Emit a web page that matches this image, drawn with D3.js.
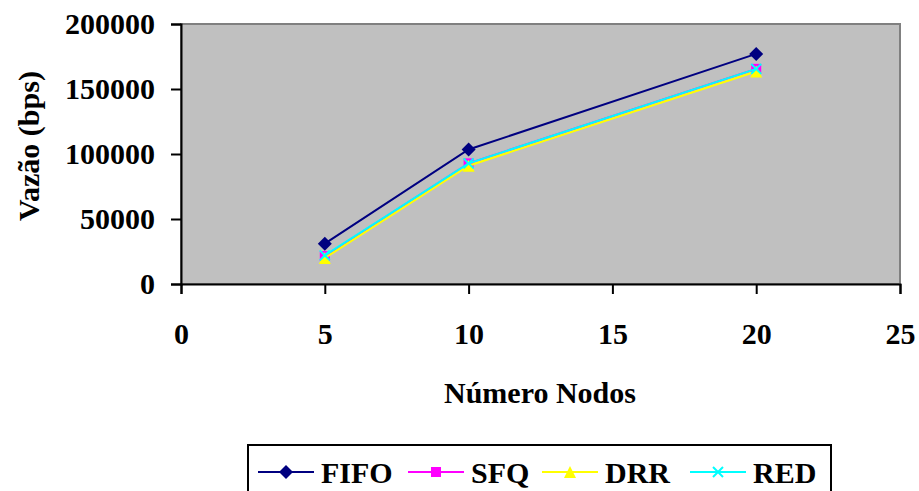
<!DOCTYPE html>
<html><head><meta charset="utf-8">
<script src="https://cdn.jsdelivr.net/npm/d3@7"></script>
<style>html,body{margin:0;padding:0;background:#fff;}svg{display:block;}</style>
</head><body>
<svg id="c" width="919" height="491"></svg>
<script>
const nodes = [5, 10, 20];
const fifo = [31000, 103500, 177000];
const sfq  = [21500, 92800, 165500];
const drr  = [20000, 91000, 163500];
const red  = [22000, 92800, 165500];
const seriesNames = ["FIFO", "SFQ", "DRR", "RED"];
const seriesColors = ["#000080", "#FF00FF", "#FFFF00", "#00FFFF"];
const seriesMarkers = ["diamond", "square", "triangle", "cross"];
const xTicks = [0, 5, 10, 15, 20, 25];
const yTicks = [0, 50000, 100000, 150000, 200000];
const xTitle = "Número Nodos";
const yTitle = "Vazão (bps)";

const seriesValues = [fifo, sfq, drr, red];
const svg = d3.select("#c");
const font = "'Liberation Serif','Times New Roman',serif";
const FS = 30;
const L = 181, R = 900, T = 24, B = 284;
const x = d3.scaleLinear().domain([0, 25]).range([L, R]);
const y = d3.scaleLinear().domain([0, 200000]).range([B, T]);

svg.append("rect").attr("x", L).attr("y", T).attr("width", R - L).attr("height", B - T)
  .attr("fill", "#C0C0C0").attr("stroke", "#808080").attr("stroke-width", 2);

const xa = svg.append("g").attr("transform", `translate(0,${B})`)
  .call(d3.axisBottom(x).tickValues(xTicks).tickSize(10).tickPadding(30).tickFormat(d3.format("d")));
const ya = svg.append("g").attr("transform", `translate(${L},0)`)
  .call(d3.axisLeft(y).tickValues(yTicks).tickSize(10).tickPadding(16).tickFormat(d3.format("d")));
[xa, ya].forEach(a => {
  a.select(".domain").attr("stroke", "#000").attr("stroke-width", 2);
  a.selectAll(".tick line").attr("stroke", "#000").attr("stroke-width", 2);
  a.selectAll("text").attr("font-family", font).attr("font-weight", "bold")
    .attr("font-size", FS).attr("fill", "#000");
});
ya.selectAll(".tick text").attr("dy", "0.33em");
xa.selectAll(".tick text").attr("dy", "0.68em");

svg.append("text").attr("x", 540).attr("y", 403).attr("text-anchor", "middle")
  .attr("font-family", font).attr("font-weight", "bold").attr("font-size", FS).text(xTitle);
svg.append("text").attr("transform", "translate(39,146) rotate(-90)").attr("text-anchor", "middle")
  .attr("font-family", font).attr("font-weight", "bold").attr("font-size", FS).text(yTitle);

function marker(g, type, cx, cy, color) {
  if (type === "diamond") {
    g.append("path").attr("d", `M${cx},${cy-7}L${cx+7},${cy}L${cx},${cy+7}L${cx-7},${cy}Z`).attr("fill", color);
  } else if (type === "square") {
    g.append("rect").attr("x", cx-5).attr("y", cy-5).attr("width", 10).attr("height", 10).attr("fill", color);
  } else if (type === "triangle") {
    g.append("path").attr("d", `M${cx},${cy-6}L${cx+6},${cy+6}L${cx-6},${cy+6}Z`).attr("fill", color);
  } else {
    g.append("path").attr("d", `M${cx-5},${cy-5}L${cx+5},${cy+5}M${cx+5},${cy-5}L${cx-5},${cy+5}`)
      .attr("stroke", color).attr("stroke-width", 2);
  }
}

const line = d3.line().x((d, i) => x(nodes[i])).y(d => y(d));
seriesValues.forEach((vals, si) => {
  const g = svg.append("g");
  g.append("path").attr("d", line(vals)).attr("fill", "none")
    .attr("stroke", seriesColors[si]).attr("stroke-width", 2);
  vals.forEach((v, i) => marker(g, seriesMarkers[si], x(nodes[i]), y(v), seriesColors[si]));
});

// legend
svg.append("rect").attr("x", 248).attr("y", 445).attr("width", 583).attr("height", 60)
  .attr("fill", "#fff").attr("stroke", "#000").attr("stroke-width", 2);
const legX = [258, 408, 542, 690];
const ly = 472;
seriesNames.forEach((n, i) => {
  const g = svg.append("g");
  g.append("line").attr("x1", legX[i]).attr("x2", legX[i] + 56).attr("y1", ly).attr("y2", ly)
    .attr("stroke", seriesColors[i]).attr("stroke-width", 2);
  marker(g, seriesMarkers[i], legX[i] + 28, ly, seriesColors[i]);
  g.append("text").attr("x", legX[i] + 63).attr("y", ly).attr("dy", "0.35em")
    .attr("font-family", font).attr("font-weight", "bold").attr("font-size", FS).text(n);
});
</script>
</body></html>
